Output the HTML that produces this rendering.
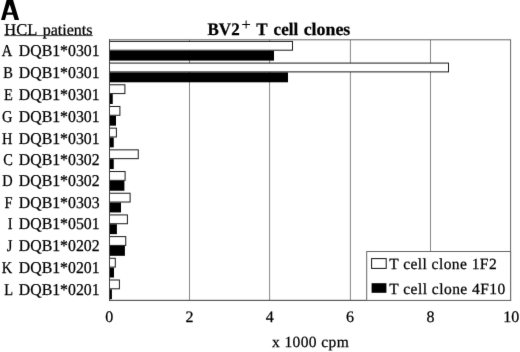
<!DOCTYPE html><html><head><meta charset="utf-8"><style>html,body{margin:0;padding:0;background:#fff;width:520px;height:352px;overflow:hidden}svg{display:block}text{text-rendering:geometricPrecision;font-family:"Liberation Serif",serif}.s{stroke:#000;stroke-width:0.25px}</style></head><body>
<svg width="520" height="352" viewBox="0 0 520 352">
<defs><filter id="bl" x="0" y="0" width="520" height="352" filterUnits="userSpaceOnUse" color-interpolation-filters="sRGB"><feConvolveMatrix order="3" kernelMatrix="1 12 1 12 144 12 1 12 1" divisor="196" edgeMode="duplicate"/></filter></defs>
<g filter="url(#bl)">
<rect width="520" height="352" fill="#fff"/>
<line x1="189.5" y1="39.8" x2="189.5" y2="300.4" stroke="#888" stroke-width="1"/>
<line x1="269.6" y1="39.8" x2="269.6" y2="300.4" stroke="#888" stroke-width="1"/>
<line x1="350.4" y1="39.8" x2="350.4" y2="300.4" stroke="#888" stroke-width="1"/>
<line x1="430.5" y1="39.8" x2="430.5" y2="300.4" stroke="#888" stroke-width="1"/>
<rect x="109.5" y="39.8" width="401.1" height="260.6" fill="none" stroke="#666" stroke-width="1"/>
<rect x="109.5" y="50.70" width="164.50" height="9.90" fill="#000"/>
<rect x="109.5" y="41.40" width="183.00" height="8.80" fill="#fff" stroke="#1a1a1a" stroke-width="1"/>
<rect x="109.5" y="72.39" width="178.50" height="9.90" fill="#000"/>
<rect x="109.5" y="63.09" width="339.00" height="8.80" fill="#fff" stroke="#1a1a1a" stroke-width="1"/>
<rect x="109.5" y="94.08" width="3.25" height="9.90" fill="#000"/>
<rect x="109.5" y="84.78" width="15.40" height="8.80" fill="#fff" stroke="#1a1a1a" stroke-width="1"/>
<rect x="109.5" y="115.77" width="6.50" height="9.90" fill="#000"/>
<rect x="109.5" y="106.47" width="10.40" height="8.80" fill="#fff" stroke="#1a1a1a" stroke-width="1"/>
<rect x="109.5" y="137.46" width="4.25" height="9.90" fill="#000"/>
<rect x="109.5" y="128.16" width="6.90" height="8.80" fill="#fff" stroke="#1a1a1a" stroke-width="1"/>
<rect x="109.5" y="159.15" width="4.25" height="9.90" fill="#000"/>
<rect x="109.5" y="149.85" width="28.75" height="8.80" fill="#fff" stroke="#1a1a1a" stroke-width="1"/>
<rect x="109.5" y="180.84" width="14.90" height="9.90" fill="#000"/>
<rect x="109.5" y="171.54" width="15.60" height="8.80" fill="#fff" stroke="#1a1a1a" stroke-width="1"/>
<rect x="109.5" y="202.53" width="11.50" height="9.90" fill="#000"/>
<rect x="109.5" y="193.23" width="20.60" height="8.80" fill="#fff" stroke="#1a1a1a" stroke-width="1"/>
<rect x="109.5" y="224.22" width="7.40" height="9.90" fill="#000"/>
<rect x="109.5" y="214.92" width="17.90" height="8.80" fill="#fff" stroke="#1a1a1a" stroke-width="1"/>
<rect x="109.5" y="245.91" width="15.40" height="9.90" fill="#000"/>
<rect x="109.5" y="236.61" width="16.25" height="8.80" fill="#fff" stroke="#1a1a1a" stroke-width="1"/>
<rect x="109.5" y="267.60" width="4.50" height="9.90" fill="#000"/>
<rect x="109.5" y="258.30" width="5.80" height="8.80" fill="#fff" stroke="#1a1a1a" stroke-width="1"/>
<rect x="109.5" y="289.29" width="2.40" height="9.90" fill="#000"/>
<rect x="109.5" y="279.99" width="9.90" height="8.80" fill="#fff" stroke="#1a1a1a" stroke-width="1"/>
<line x1="109.0" y1="300.4" x2="511.1" y2="300.4" stroke="#555" stroke-width="1"/>
<line x1="109.5" y1="39.3" x2="109.5" y2="300.9" stroke="#444" stroke-width="1"/>
<rect x="366.7" y="251.5" width="143.9" height="48.9" fill="#fff" stroke="#666" stroke-width="1"/>
<rect x="371.6" y="258.6" width="14.6" height="9.8" fill="#fff" stroke="#111" stroke-width="1"/>
<rect x="371.6" y="283.2" width="14.8" height="9.6" fill="#000"/>
<text class="s" x="389.2" y="269.2" font-size="15.5" letter-spacing="0.44">T cell clone 1F2</text>
<text class="s" x="389.2" y="293.6" font-size="15.5" letter-spacing="0.47">T cell clone 4F10</text>
<text class="s" transform="translate(12.21,56.00) scale(0.875,1)" font-size="16.5" text-anchor="end">A</text>
<text class="s" x="99.65" y="56.00" font-size="16.5" text-anchor="end" textLength="80.80" lengthAdjust="spacingAndGlyphs">DQB1*0301</text>
<text class="s" transform="translate(12.80,78.10) scale(0.875,1)" font-size="16.5" text-anchor="end">B</text>
<text class="s" x="99.65" y="78.10" font-size="16.5" text-anchor="end" textLength="80.80" lengthAdjust="spacingAndGlyphs">DQB1*0301</text>
<text class="s" transform="translate(12.82,100.00) scale(0.875,1)" font-size="16.5" text-anchor="end">E</text>
<text class="s" x="99.65" y="100.00" font-size="16.5" text-anchor="end" textLength="80.80" lengthAdjust="spacingAndGlyphs">DQB1*0301</text>
<text class="s" transform="translate(12.55,122.00) scale(0.875,1)" font-size="16.5" text-anchor="end">G</text>
<text class="s" x="99.65" y="122.00" font-size="16.5" text-anchor="end" textLength="80.80" lengthAdjust="spacingAndGlyphs">DQB1*0301</text>
<text class="s" transform="translate(12.52,143.50) scale(0.875,1)" font-size="16.5" text-anchor="end">H</text>
<text class="s" x="99.65" y="143.50" font-size="16.5" text-anchor="end" textLength="80.80" lengthAdjust="spacingAndGlyphs">DQB1*0301</text>
<text class="s" transform="translate(12.90,164.70) scale(0.875,1)" font-size="16.5" text-anchor="end">C</text>
<text class="s" x="99.65" y="164.70" font-size="16.5" text-anchor="end" textLength="80.80" lengthAdjust="spacingAndGlyphs">DQB1*0302</text>
<text class="s" transform="translate(12.68,186.00) scale(0.875,1)" font-size="16.5" text-anchor="end">D</text>
<text class="s" x="99.65" y="186.00" font-size="16.5" text-anchor="end" textLength="80.80" lengthAdjust="spacingAndGlyphs">DQB1*0302</text>
<text class="s" transform="translate(12.62,208.00) scale(0.875,1)" font-size="16.5" text-anchor="end">F</text>
<text class="s" x="99.65" y="208.00" font-size="16.5" text-anchor="end" textLength="80.80" lengthAdjust="spacingAndGlyphs">DQB1*0303</text>
<text class="s" transform="translate(12.61,229.00) scale(0.875,1)" font-size="16.5" text-anchor="end">I</text>
<text class="s" x="99.65" y="229.00" font-size="16.5" text-anchor="end" textLength="80.80" lengthAdjust="spacingAndGlyphs">DQB1*0501</text>
<text class="s" transform="translate(12.40,251.00) scale(0.875,1)" font-size="16.5" text-anchor="end">J</text>
<text class="s" x="99.65" y="251.00" font-size="16.5" text-anchor="end" textLength="80.80" lengthAdjust="spacingAndGlyphs">DQB1*0202</text>
<text class="s" transform="translate(12.25,272.60) scale(0.875,1)" font-size="16.5" text-anchor="end">K</text>
<text class="s" x="99.65" y="272.60" font-size="16.5" text-anchor="end" textLength="80.80" lengthAdjust="spacingAndGlyphs">DQB1*0201</text>
<text class="s" transform="translate(12.97,294.50) scale(0.875,1)" font-size="16.5" text-anchor="end">L</text>
<text class="s" x="99.65" y="294.50" font-size="16.5" text-anchor="end" textLength="80.80" lengthAdjust="spacingAndGlyphs">DQB1*0201</text>
<text class="s" x="4.32" y="34.6" font-size="16.5">HCL</text>
<text class="s" x="42.74" y="34.6" font-size="16">patients</text>
<line x1="4.3" y1="35.6" x2="92.8" y2="35.6" stroke="#444" stroke-width="1"/>
<text x="207.52" y="34.7" class="s" font-weight="bold" font-size="17.6" lengthAdjust="spacingAndGlyphs" textLength="32.12">BV2</text>
<text x="241.6" y="29.6" font-size="16.5" stroke="#000" stroke-width="0.15">+</text>
<text x="256.13" y="34.7" class="s" font-weight="bold" font-size="17.6" lengthAdjust="spacingAndGlyphs" textLength="11.34">T</text>
<text x="273.6" y="34.7" class="s" font-weight="bold" font-size="17.6" lengthAdjust="spacingAndGlyphs" textLength="24.54">cell</text>
<text x="303.7" y="34.7" class="s" font-weight="bold" font-size="17.6" lengthAdjust="spacingAndGlyphs" textLength="46.6">clones</text>
<text class="s" x="109.2" y="322.0" font-size="16" text-anchor="middle">0</text>
<text class="s" x="189.6" y="322.0" font-size="16" text-anchor="middle">2</text>
<text class="s" x="269.7" y="322.0" font-size="16" text-anchor="middle">4</text>
<text class="s" x="350.0" y="322.0" font-size="16" text-anchor="middle">6</text>
<text class="s" x="430.4" y="322.0" font-size="16" text-anchor="middle">8</text>
<text class="s" x="511.3" y="322.0" font-size="16" text-anchor="middle">10</text>
<text class="s" x="272.1" y="347" font-size="15.5" letter-spacing="0.38">x 1000 cpm</text>
<path fill="#000" fill-rule="evenodd" d="M1.0,20 L6.88,-1 L12.80,-1 L19.1,20 L14.6,20 L13.01,14.7 L6.48,14.7 L5.0,20 Z M7.07,12.6 L9.73,4.4 L12.38,12.6 Z"/>
</g>
</svg></body></html>
